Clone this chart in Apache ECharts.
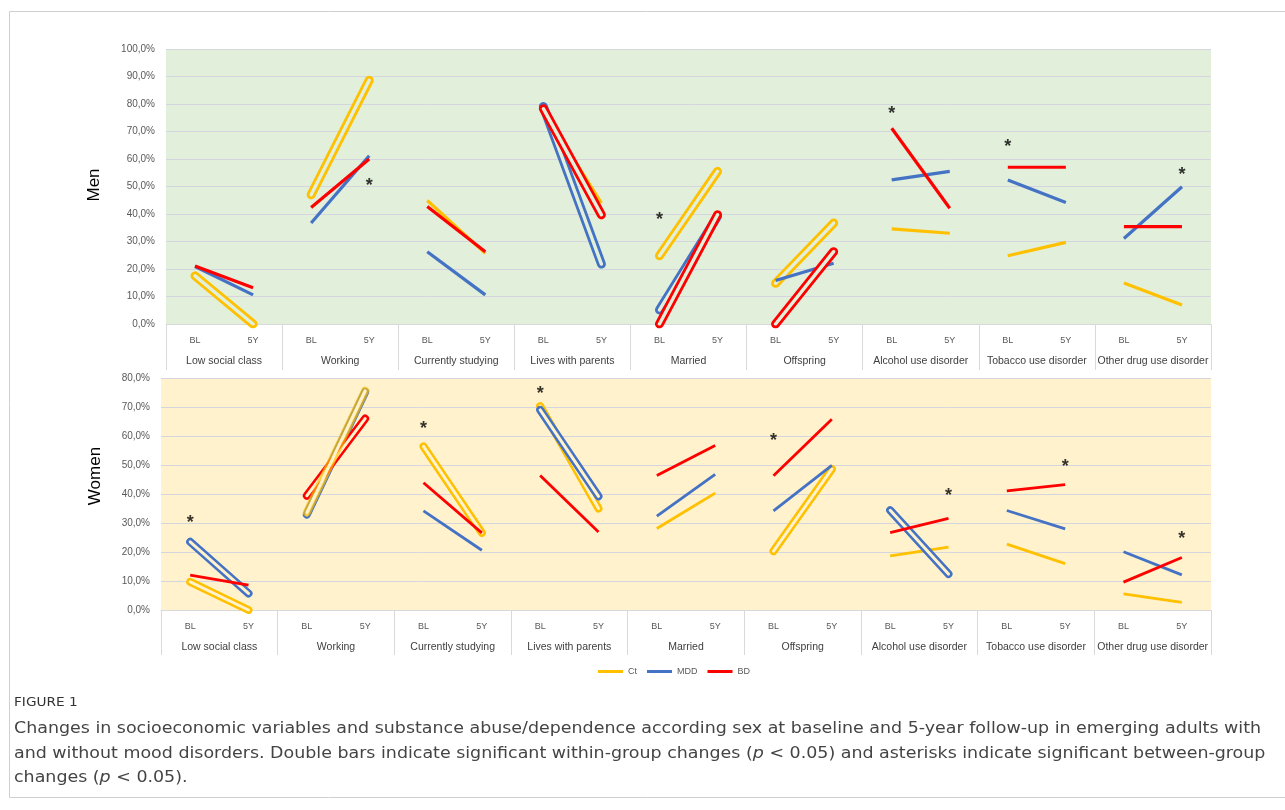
<!DOCTYPE html>
<html>
<head>
<meta charset="utf-8">
<script src="https://cdn.jsdelivr.net/npm/echarts@6/dist/echarts.min.js"></script>
<style>
  html, body { margin: 0; padding: 0; background: #fff; }
  #chart { width: 1285px; height: 810px; }
</style>
</head>
<body>
<div id="chart"></div>
<script>
// Outcome groups shown along the x axis, each with a baseline and 5-year point
const categories = ['Low social class', 'Working', 'Currently studying', 'Lives with parents',
  'Married', 'Offspring', 'Alcohol use disorder', 'Tobacco use disorder', 'Other drug use disorder'];
const timepoints = ['BL', '5Y'];
const seriesNames = ['Ct', 'MDD', 'BD'];

// Percentages per group, as [BL, 5Y] pairs in category order
const menCt  = [17.5, 0, 47.0, 88.6, 44.9, 25.7, 77.5, 44.0, 24.8, 55.5, 14.8, 36.7, 34.6, 33.0, 24.8, 29.7, 14.9, 6.9];
const menMDD = [20.9, 10.6, 36.7, 61.2, 26.3, 10.6, 79.1, 21.8, 5.1, 39.1, 15.8, 22.1, 52.4, 55.5, 52.4, 44.2, 31.1, 49.9];
const menBD  = [21.1, 13.2, 42.4, 60.0, 42.7, 26.3, 78.3, 39.7, 0, 39.7, 0, 26.3, 71.2, 42.1, 57.0, 57.0, 35.4, 35.4];

const womenCt  = [9.7, 0, 33.6, 75.6, 56.4, 26.6, 70.3, 35.0, 28.1, 40.3, 20.3, 48.6, 18.7, 21.7, 22.7, 16.0, 5.6, 2.6];
const womenMDD = [23.5, 5.7, 32.9, 75.2, 34.2, 20.6, 69.0, 39.2, 32.4, 46.8, 34.2, 49.9, 34.4, 12.4, 34.3, 28.0, 20.1, 12.1];
const womenBD  = [12.0, 8.6, 39.4, 66.0, 43.9, 26.6, 46.4, 26.9, 46.4, 56.7, 46.3, 65.8, 26.7, 31.6, 41.1, 43.2, 9.6, 18.1];

// Significant within-group change (drawn as a double bar), one flag per group
const menCtSig  = [1, 1, 0, 0, 1, 1, 0, 0, 0];
const menMDDSig = [0, 0, 0, 1, 1, 0, 0, 0, 0];
const menBDSig  = [0, 0, 0, 1, 1, 1, 0, 0, 0];
const womenCtSig  = [1, 1, 1, 1, 0, 1, 0, 0, 0];
const womenMDDSig = [1, 1, 0, 1, 0, 0, 1, 0, 0];
const womenBDSig  = [0, 1, 0, 0, 0, 0, 0, 0, 0];

// Between-group significance markers: [point index, height in %]
const menStars   = [[3, 51.8], [8, 39.4], [12, 77.7], [14, 65.8], [17, 55.7]];
const womenStars = [[0, 31.5], [4, 63.8], [6, 76.0], [10, 59.6], [13, 40.6], [15, 50.7], [17, 25.8]];

const menTicks = [0, 10, 20, 30, 40, 50, 60, 70, 80, 90, 100];
const womenTicks = [0, 10, 20, 30, 40, 50, 60, 70, 80];

// ---- styling ----
const COLORS = { Ct: '#FFC000', MDD: '#4472C4', BD: '#FF0000' };
const FONT = 'Liberation Sans';
const CAPTION_FONT = 'DejaVu Sans';
const panels = [
  { values: [menCt, menMDD, menBD], sig: [menCtSig, menMDDSig, menBDSig], stars: menStars,
    ticks: menTicks, bg: '#E2EFDA', grid: { left: 166, top: 49, right: 74, bottom: 486 },
    lineW: 3.2, outerW: 9, innerW: 3.4, tickLen: 46, ptMargin: 12, catMargin: 32 },
  { values: [womenCt, womenMDD, womenBD], sig: [womenCtSig, womenMDDSig, womenBDSig], stars: womenStars,
    ticks: womenTicks, bg: '#FFF2CC', grid: { left: 161, top: 378, right: 74, bottom: 200 },
    lineW: 2.8, outerW: 8, innerW: 3, tickLen: 45, ptMargin: 12, catMargin: 32 }
];
// Ct over MDD in the women "Working" group is drawn see-through on top
const overlays = [{ panel: 1, group: 1, series: 0, opacity: 0.68, z: 4 }];

const pctLabel = v => v.toFixed(1).replace('.', ',') + '%';
const pointLabels = categories.flatMap(() => timepoints);

const grids = [], xAxes = [], yAxes = [], series = [];

panels.forEach((p, pi) => {
  grids.push(Object.assign({ show: true, backgroundColor: p.bg, borderWidth: 0, containLabel: false }, p.grid));

  xAxes.push({
    type: 'category', gridIndex: pi, data: pointLabels, position: 'bottom', offset: 0,
    axisLine: { show: true, lineStyle: { color: '#d9d9d9', width: 1 } },
    axisTick: { show: false },
    axisLabel: { interval: 0, margin: p.ptMargin, fontSize: 9, color: '#595959', fontFamily: FONT }
  });
  xAxes.push({
    type: 'category', gridIndex: pi, data: categories, position: 'bottom', offset: 0,
    axisLine: { show: false },
    axisTick: { show: true, length: p.tickLen, lineStyle: { color: '#d9d9d9', width: 1 } },
    axisLabel: { interval: 0, margin: p.catMargin, fontSize: 10.5, color: '#404040', fontFamily: FONT }
  });
  const maxV = p.ticks[p.ticks.length - 1];
  yAxes.push({
    type: 'value', gridIndex: pi, min: p.ticks[0], max: maxV, interval: p.ticks[1] - p.ticks[0],
    axisLine: { show: false }, axisTick: { show: false },
    splitLine: { show: true, lineStyle: { color: '#d5d5df', width: 1 } },
    axisLabel: { formatter: pctLabel, fontSize: 10, color: '#595959', margin: 11, fontFamily: FONT }
  });

  const xi = pi * 2, yi = pi;
  categories.forEach((cat, g) => {
    seriesNames.forEach((name, si) => {
      const vals = p.values[si];
      const data = [[2 * g, vals[2 * g]], [2 * g + 1, vals[2 * g + 1]]];
      const double = p.sig[si][g] === 1;
      const ov = overlays.find(o => o.panel === pi && o.group === g && o.series === si);
      const z = ov ? ov.z : 2;
      series.push({
        type: 'line', name: name, xAxisIndex: xi, yAxisIndex: yi, data: data,
        color: COLORS[name], symbol: 'none', silent: true, animation: false, z: z,
        lineStyle: { color: COLORS[name], width: double ? p.outerW : p.lineW,
          cap: double ? 'round' : 'butt', opacity: ov ? ov.opacity : 1 }
      });
      if (double) {
        series.push({
          type: 'line', name: name + ' inner', xAxisIndex: xi, yAxisIndex: yi, data: data,
          color: p.bg, symbol: 'none', silent: true, animation: false, z: z,
          lineStyle: { color: p.bg, width: p.innerW, cap: 'round' }
        });
      }
    });
  });

  series.push({
    type: 'scatter', name: 'significance', xAxisIndex: xi, yAxisIndex: yi, data: p.stars,
    symbolSize: 0, silent: true, animation: false, z: 6,
    label: { show: true, position: 'inside', formatter: '*', fontSize: 18, fontWeight: 'bold',
      color: '#000', fontFamily: FONT, offset: [0, 4] }
  });
});

const captionRich = {
  i: { fontFamily: CAPTION_FONT, fontSize: 16, fontStyle: 'italic', fill: '#444', lineHeight: 24.5 }
};

const chart = echarts.init(document.getElementById('chart'), null, { renderer: 'canvas' });
chart.setOption({
  backgroundColor: '#ffffff',
  animation: false,
  grid: grids,
  xAxis: xAxes,
  yAxis: yAxes,
  series: series,
  legend: {
    data: seriesNames.map(n => ({ name: n, itemStyle: { color: COLORS[n] } })),
    left: 593, top: 662, icon: 'rect', itemWidth: 25, itemHeight: 3, itemGap: 10,
    textStyle: { fontSize: 9, color: '#595959', fontFamily: FONT }, selectedMode: false
  },
  graphic: [
    { type: 'rect', silent: true, shape: { x: 9.5, y: 11.5, width: 1300, height: 786 },
      style: { fill: 'none', stroke: '#cfcfcf', lineWidth: 1 } },
    { type: 'text', x: 94, y: 185, rotation: Math.PI / 2,
      style: { text: 'Men', font: '17px "Liberation Sans"', fill: '#000', align: 'center', verticalAlign: 'middle' } },
    { type: 'text', x: 95, y: 476, rotation: Math.PI / 2,
      style: { text: 'Women', font: '17px "Liberation Sans"', fill: '#000', align: 'center', verticalAlign: 'middle' } },
    { type: 'text', x: 14, y: 703, scaleX: 1.05,
      style: { text: 'FIGURE 1', font: '13px "DejaVu Sans"', fill: '#333', verticalAlign: 'middle' } },
    { type: 'text', x: 14, y: 717, scaleX: 1.09,
      style: { text: 'Changes in socioeconomic variables and substance abuse/dependence according sex at baseline and 5-year follow-up in emerging adults with\nand without mood disorders. Double bars indicate significant within-group changes ({i|p} < 0.05) and asterisks indicate significant between-group\nchanges ({i|p} < 0.05).',
        font: '16px "DejaVu Sans"', lineHeight: 24.5, fill: '#444', verticalAlign: 'top', rich: captionRich } }
  ]
});
</script>
</body>
</html>
